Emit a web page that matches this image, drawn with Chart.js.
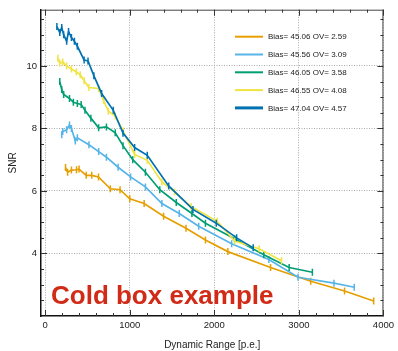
<!DOCTYPE html>
<html>
<head>
<meta charset="utf-8">
<script src="https://cdn.jsdelivr.net/npm/chart.js@4.4.1/dist/chart.umd.min.js"></script>
<style>
    html, body { margin: 0; padding: 0; background: #fff; }
    #wrap { position: relative; width: 398px; height: 351px; }
</style>
</head>
<body>
<div id="wrap"><canvas id="snrChart" width="398" height="351"></canvas></div>
<script>
// Series labels and colours (one per bias setting)
const seriesLabels = [
    'Bias= 45.06 OV= 2.59',
    'Bias= 45.56 OV= 3.09',
    'Bias= 46.05 OV= 3.58',
    'Bias= 46.55 OV= 4.08',
    'Bias= 47.04 OV= 4.57'
];
const seriesColors = ['#E69F00', '#56B4E9', '#009E73', '#F0E442', '#0072B2'];

// Dynamic range [p.e.] and SNR
const dr259 = [240, 265, 310, 370, 400, 485, 550, 630, 770, 885, 1000, 1170, 1400, 1665, 1895, 2160, 2665, 3140, 3540, 3885];
const snr259 = [6.75, 6.6, 6.67, 6.68, 6.7, 6.5, 6.5, 6.45, 6.07, 6.04, 5.75, 5.6, 5.19, 4.81, 4.43, 4.06, 3.55, 3.11, 2.8, 2.48];

const dr309 = [195, 207, 253, 287, 310, 356, 380, 517, 632, 724, 862, 1010, 1185, 1380, 1585, 1815, 2205, 2645, 2990, 3415, 3655];
const snr309 = [7.8, 7.9, 7.96, 8.11, 8.0, 7.6, 7.7, 7.48, 7.26, 7.08, 6.76, 6.45, 6.13, 5.6, 5.28, 4.87, 4.31, 3.81, 3.24, 3.05, 2.92];

const dr358 = [172, 195, 218, 287, 333, 380, 425, 470, 540, 632, 724, 828, 920, 1035, 1185, 1355, 1550, 1735, 1895, 2240, 2585, 2885, 3160];
const snr358 = [9.5, 9.25, 9.09, 8.96, 8.84, 8.8, 8.77, 8.58, 8.33, 8.02, 8.05, 7.86, 7.45, 7.0, 6.6, 6.04, 5.63, 5.28, 4.97, 4.47, 3.96, 3.55, 3.4];

const dr408 = [150, 172, 207, 253, 310, 368, 414, 460, 517, 632, 690, 747, 828, 920, 1057, 1207, 1380, 1530, 1725, 2035, 2240, 2530, 2795];
const snr408 = [10.25, 10.09, 10.13, 10.0, 9.9, 9.81, 9.72, 9.53, 9.31, 9.28, 8.9, 8.55, 8.4, 7.92, 7.17, 6.98, 6.29, 5.97, 5.5, 5.03, 4.4, 4.15, 3.77];

const dr457 = [138, 172, 195, 218, 253, 276, 310, 345, 380, 460, 506, 575, 667, 805, 920, 1057, 1207, 1460, 1747, 2023, 2264, 2460];
const snr457 = [11.26, 11.07, 11.23, 11.0, 10.79, 11.1, 10.91, 10.79, 10.63, 10.19, 10.16, 9.69, 9.12, 8.58, 7.85, 7.39, 7.14, 6.16, 5.41, 4.97, 4.5, 4.18];

// Axis ticks
const xTickValues = [0, 1000, 2000, 3000, 4000];
const yTickValues = [4, 6, 8, 10];

const seriesX = [dr259, dr309, dr358, dr408, dr457];
const seriesY = [snr259, snr309, snr358, snr408, snr457];

Chart.defaults.font.family = "'Liberation Sans', Arial, Helvetica, sans-serif";
Chart.defaults.color = '#222';

// Frame on top/right, inward major + minor tick marks, legend and caption
const framePlugin = {
    id: 'frame',
    afterDraw(chart) {
        const ctx = chart.ctx;
        const area = chart.chartArea;
        const xs = chart.scales.x;
        const ys = chart.scales.y;

        ctx.save();
        // top and right frame
        ctx.strokeStyle = '#444';
        ctx.lineWidth = 1;
        ctx.beginPath();
        ctx.moveTo(area.left, area.top + 0.5);
        ctx.lineTo(area.right, area.top + 0.5);
        ctx.moveTo(area.right - 0.5, area.top);
        ctx.lineTo(area.right - 0.5, area.bottom);
        ctx.stroke();

        // tick marks
        ctx.strokeStyle = '#333';
        ctx.beginPath();
        for (let v = 0; v <= 4000; v += 200) {
            const px = Math.round(xs.getPixelForValue(v)) + 0.5;
            const len = v % 1000 === 0 ? 6 : 3;
            ctx.moveTo(px, area.bottom);
            ctx.lineTo(px, area.bottom - len);
            ctx.moveTo(px, area.top);
            ctx.lineTo(px, area.top + len);
        }
        for (let v = 2.5; v <= 11.5; v += 0.5) {
            const py = Math.round(ys.getPixelForValue(v)) + 0.5;
            const len = v % 2 === 0 ? 6 : 3;
            ctx.moveTo(area.left, py);
            ctx.lineTo(area.left + len, py);
            ctx.moveTo(area.right, py);
            ctx.lineTo(area.right - len, py);
        }
        ctx.stroke();

        // legend
        const lx = area.left + 194;
        const ly = area.top + 27;
        ctx.font = "8px 'Liberation Sans', Arial, sans-serif";
        ctx.textBaseline = 'middle';
        ctx.fillStyle = '#222';
        chart.data.datasets.forEach((ds, i) => {
            const y = ly + i * 17.8;
            ctx.strokeStyle = ds.borderColor;
            ctx.lineWidth = i === 4 ? 3 : 2;
            ctx.beginPath();
            ctx.moveTo(lx, y);
            ctx.lineTo(lx + 28, y);
            ctx.stroke();
            ctx.fillText(ds.label, lx + 33, y + 0.5);
        });

        // caption
        ctx.font = "bold 26px 'Liberation Sans', Arial, sans-serif";
        ctx.textBaseline = 'alphabetic';
        ctx.fillStyle = '#d12a17';
        ctx.fillText('Cold box example', area.left + 10, 304);
        ctx.restore();
    }
};

const datasets = seriesLabels.map((label, i) => ({
    label: label,
    data: seriesX[i].map((x, j) => ({ x: x, y: seriesY[i][j] })),
    borderColor: seriesColors[i],
    backgroundColor: seriesColors[i],
    borderWidth: 1.7,
    pointStyle: 'line',
    rotation: 90,
    pointRadius: 3.5,
    pointBorderWidth: 1.5,
    tension: 0,
    order: 5 - i
}));

new Chart(document.getElementById('snrChart'), {
    type: 'line',
    data: { datasets: datasets },
    options: {
        responsive: false,
        animation: false,
        layout: { padding: { top: 4, right: 6, left: 0, bottom: 0 } },
        plugins: {
            legend: { display: false },
            tooltip: { enabled: false }
        },
        scales: {
            x: {
                type: 'linear',
                min: -50,
                max: 4000,
                afterBuildTicks: s => { s.ticks = xTickValues.map(v => ({ value: v })); },
                afterFit: s => { s.height = 35; },
                ticks: { font: { size: 9.5 }, padding: 4, maxRotation: 0, color: '#222', callback: v => String(v) },
                grid: { color: '#aaa', drawTicks: false },
                border: { display: true, color: '#111', width: 1.5, dash: [1, 1.5] },
                title: { display: true, text: 'Dynamic Range [p.e.]', font: { size: 10 }, color: '#222', padding: 0 }
            },
            y: {
                type: 'linear',
                min: 2,
                max: 11.8,
                afterBuildTicks: s => { s.ticks = yTickValues.map(v => ({ value: v })); },
                afterFit: s => { s.width = 41; },
                ticks: { font: { size: 9.5 }, padding: 4, color: '#222', callback: v => String(v) },
                grid: { color: '#aaa', drawTicks: false },
                border: { display: true, color: '#111', width: 1.5, dash: [1, 1.5] },
                title: { display: true, text: 'SNR', font: { size: 10 }, color: '#222', padding: { top: 7, bottom: 0 } }
            }
        }
    },
    plugins: [framePlugin]
});
</script>
</body>
</html>
